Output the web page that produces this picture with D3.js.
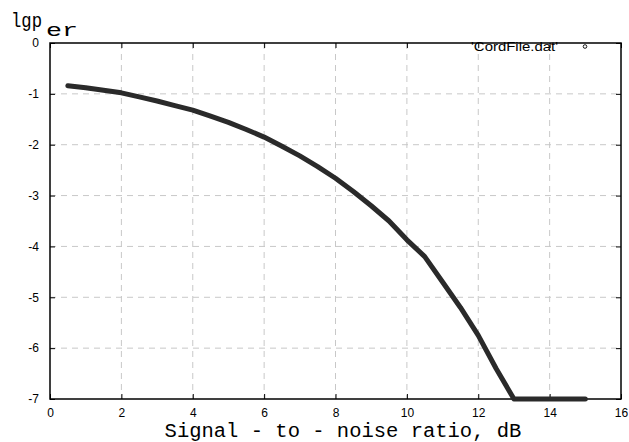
<!DOCTYPE html>
<html>
<head>
<meta charset="utf-8">
<script src="https://cdn.jsdelivr.net/npm/d3@7"></script>
<style>
  body { margin: 0; background: #fff; }
  svg { display: block; }
  .tick-lbl { font-family: "Liberation Sans", Arial, sans-serif; font-size: 12px; fill: #000; }
  .mono { font-family: "Liberation Mono", "Courier New", monospace; fill: #000; }
</style>
</head>
<body>
<div id="chart"></div>
<script>
// SNR (dB) and lg of error probability
const snr = [0.5, 1, 1.5, 2, 2.5, 3, 3.5, 4, 4.5, 5, 5.5, 6, 6.5, 7, 7.5, 8, 8.5, 9, 9.5, 10, 10.5, 11, 11.5, 12, 12.5, 13, 13.5, 14, 14.5, 15];
const lgPer = [-0.84, -0.88, -0.93, -0.98, -1.06, -1.14, -1.23, -1.32, -1.44, -1.56, -1.70, -1.85, -2.03, -2.22, -2.43, -2.66, -2.92, -3.20, -3.50, -3.87, -4.20, -4.70, -5.20, -5.75, -6.40, -7, -7, -7, -7, -7];
const xTicks = [0, 2, 4, 6, 8, 10, 12, 14, 16];
const yTicks = [0, -1, -2, -3, -4, -5, -6, -7];
const legendLabel = "'CordFile.dat'";

const W = 629, H = 442;
const margin = {top: 43, right: 8, bottom: 43, left: 50};
const width = W - margin.left - margin.right,
      height = H - margin.top - margin.bottom;

const svg = d3.select("#chart").append("svg")
    .attr("width", W)
    .attr("height", H);

const g = svg.append("g")
    .attr("transform", `translate(${margin.left},${margin.top})`);

const x = d3.scaleLinear().domain([0, 16]).range([0, width]);
const y = d3.scaleLinear().domain([-7, 0]).range([height, 0]);

// dashed grid
g.selectAll("line.vgrid")
  .data(xTicks.slice(1, -1))
  .enter().append("line")
    .attr("x1", d => x(d)).attr("x2", d => x(d))
    .attr("y1", 0).attr("y2", height)
    .attr("stroke", "#c8c8c8").attr("stroke-dasharray", "6,5");
g.selectAll("line.hgrid")
  .data(yTicks.slice(1, -1))
  .enter().append("line")
    .attr("x1", 0).attr("x2", width)
    .attr("y1", d => y(d)).attr("y2", d => y(d))
    .attr("stroke", "#c8c8c8").attr("stroke-dasharray", "6,5");

// axes with inward ticks on all four sides, plain hyphen minus
const fmt = d => String(d);
const axBottom = g.append("g").attr("transform", `translate(0,${height})`)
  .call(d3.axisBottom(x).tickValues(xTicks).tickSize(-5).tickPadding(9).tickFormat(fmt));
const axTop = g.append("g")
  .call(d3.axisTop(x).tickValues(xTicks).tickSize(-5).tickFormat(""));
const axLeft = g.append("g")
  .call(d3.axisLeft(y).tickValues(yTicks).tickSize(-5).tickPadding(11).tickFormat(fmt));
const axRight = g.append("g").attr("transform", `translate(${width},0)`)
  .call(d3.axisRight(y).tickValues(yTicks).tickSize(-5).tickFormat(""));

[axBottom, axTop, axLeft, axRight].forEach(a => {
  a.select(".domain").remove();
  a.selectAll(".tick line").attr("stroke", "#000");
  a.selectAll("text").attr("class", "tick-lbl").attr("font-size", null).attr("font-family", null);
});

// frame
g.append("rect")
  .attr("width", width).attr("height", height)
  .attr("fill", "none").attr("stroke", "#000").attr("stroke-width", 1.5);

// curve
const line = d3.line().x((d, i) => x(snr[i])).y(d => y(d));
g.append("path")
  .datum(lgPer)
  .attr("d", line)
  .attr("fill", "none")
  .attr("stroke", "#2a2a2a")
  .attr("stroke-width", 5)
  .attr("stroke-linecap", "round")
  .attr("stroke-linejoin", "round");

// legend
svg.append("text")
  .attr("class", "tick-lbl")
  .attr("x", 471).attr("y", 50.5)
  .attr("font-size", 11.5)
  .attr("textLength", 87)
  .attr("lengthAdjust", "spacingAndGlyphs")
  .text(legendLabel);
svg.append("circle")
  .attr("cx", 585).attr("cy", 46.5)
  .attr("r", 1.8)
  .attr("fill", "none").attr("stroke", "#000").attr("stroke-width", 0.9);

// y title lgp_er (one text, subscript as a tspan)
const yt = svg.append("text").attr("class", "mono")
  .attr("x", 11).attr("y", 27).attr("font-size", 21);
yt.append("tspan")
  .attr("textLength", 31).attr("lengthAdjust", "spacingAndGlyphs")
  .text("lgp");
yt.append("tspan")
  .attr("x", 46).attr("dy", 9).attr("font-size", 18)
  .attr("textLength", 32).attr("lengthAdjust", "spacingAndGlyphs")
  .text("er");

// x title
svg.append("text")
  .attr("class", "mono")
  .attr("x", 343).attr("y", 437)
  .attr("text-anchor", "middle")
  .attr("font-size", 20.5)
  .text("Signal - to - noise ratio, dB");
</script>
</body>
</html>
